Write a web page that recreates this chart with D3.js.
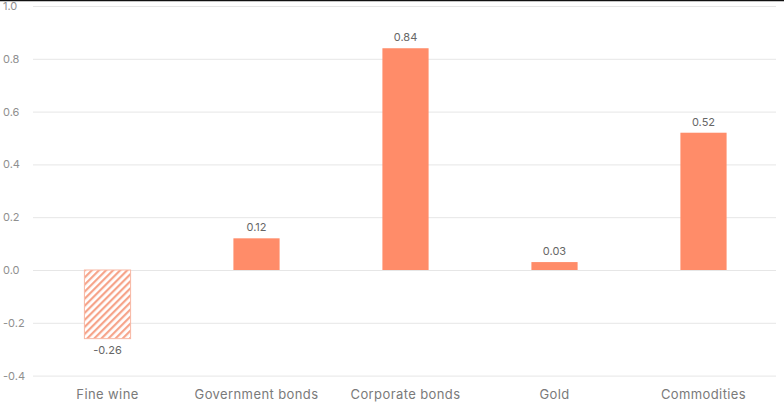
<!DOCTYPE html>
<html><head><meta charset="utf-8">
<script src="https://cdn.jsdelivr.net/npm/d3@7"></script>
<style>body{margin:0;background:#fff}svg{display:block}</style>
</head><body>
<script>
const categories = ["Fine wine","Government bonds","Corporate bonds","Gold","Commodities"];
const values = [-0.26, 0.12, 0.84, 0.03, 0.52];
const yTicks = [-0.4,-0.2,0.0,0.2,0.4,0.6,0.8,1.0];

const W=784,H=408;
const svg=d3.select("body").append("svg").attr("width",W).attr("height",H);
const font="Inter, 'DejaVu Sans', sans-serif";
const x=d3.scaleBand().domain(categories).range([33,778]).paddingInner(0.69).paddingOuter(0.345);
const y=d3.scaleLinear().domain([-0.4,1.0]).range([375.6,6]);

const defs=svg.append("defs");
const pat=defs.append("pattern").attr("id","hatch").attr("patternUnits","userSpaceOnUse")
 .attr("width",5).attr("height",5).attr("patternTransform","rotate(45)");
pat.append("rect").attr("width",5).attr("height",5).attr("fill","#fff");
pat.append("rect").attr("width",2.2).attr("height",5).attr("fill","#f6a48a");

svg.append("line").attr("x1",0).attr("x2",W).attr("y1",0.5).attr("y2",0.5).attr("stroke","#111").attr("stroke-width",1.5);

const ax=svg.append("g").attr("transform","translate(33,0)")
 .call(d3.axisLeft(y).tickValues(yTicks).tickFormat(d=>d.toFixed(1)).tickSize(-(776-33)).tickPadding(8));
ax.select(".domain").remove();
ax.selectAll(".tick line").attr("stroke","#e6e6e6");
ax.selectAll(".tick text").attr("fill","#8f8f8f").attr("font-size",11).attr("font-family",font).attr("text-anchor","start").attr("x",-30);

svg.selectAll("rect.bar").data(values).join("rect").attr("class","bar")
 .attr("x",(d,i)=>x(categories[i])).attr("width",x.bandwidth())
 .attr("y",d=>y(Math.max(0,d))).attr("height",d=>Math.abs(y(d)-y(0)))
 .attr("fill",d=>d<0?"url(#hatch)":"#ff8c69")
 .attr("stroke",d=>d<0?"#f8b8a4":"none").attr("stroke-width",1);

svg.selectAll("text.val").data(values).join("text").attr("class","val")
 .attr("x",(d,i)=>x(categories[i])+x.bandwidth()/2)
 .attr("y",d=>d<0?y(d)+15:y(d)-7)
 .attr("text-anchor","middle").attr("font-size",11).attr("font-family",font).attr("fill","#666")
 .text(d=>d.toFixed(2));

const xa=svg.append("g").attr("transform","translate(0,376)")
 .call(d3.axisBottom(x).tickSize(0).tickPadding(14));
xa.select(".domain").remove();
xa.selectAll(".tick text").attr("fill","#7a7a7a").attr("font-size",13).attr("letter-spacing","0.4px").attr("font-family",font);
</script>
</body></html>
